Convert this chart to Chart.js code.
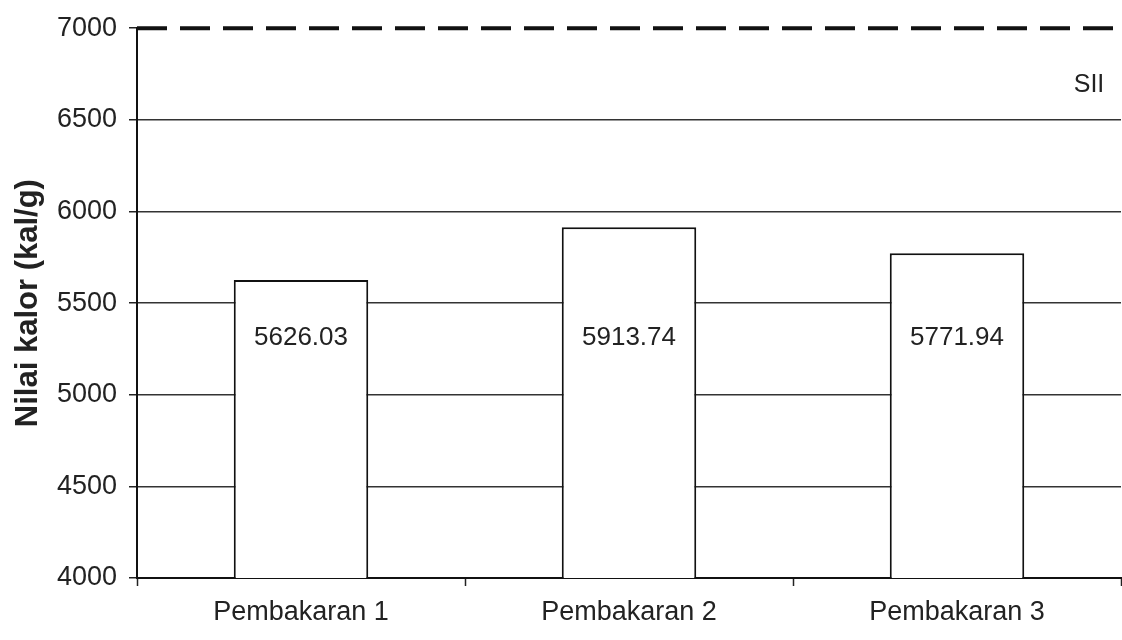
<!DOCTYPE html>
<html>
<head>
<meta charset="utf-8">
<script src="https://cdn.jsdelivr.net/npm/chart.js@4/dist/chart.umd.min.js"></script>
<style>
  html, body { margin: 0; padding: 0; background: #fff; }
  #wrap { width: 1122px; height: 640px; }
</style>
</head>
<body>
<div id="wrap"><canvas id="kalorChart" width="1122" height="640"></canvas></div>
<script>
const categories = ['Pembakaran 1', 'Pembakaran 2', 'Pembakaran 3'];
const nilaiKalor = [5626.03, 5913.74, 5771.94];
const siiValue = 7000;
const siiLabel = 'SII';
const yTicks = [4000, 4500, 5000, 5500, 6000, 6500, 7000];

const sans = '"Liberation Sans", Arial, Helvetica, sans-serif';

// dashed SII line + value labels inside bars
const extras = {
    id: 'extras',
    afterDatasetsDraw(chart) {
        const ctx = chart.ctx;
        const area = chart.chartArea;
        const y = chart.scales.y;
        const ySii = y.getPixelForValue(siiValue);
        ctx.save();
        ctx.strokeStyle = '#111';
        ctx.lineWidth = 4;
        ctx.setLineDash([30, 13]);
        ctx.beginPath();
        ctx.moveTo(area.left, ySii);
        ctx.lineTo(area.right, ySii);
        ctx.stroke();
        ctx.setLineDash([]);
        ctx.fillStyle = '#222';
        ctx.font = '25px ' + sans;
        ctx.textAlign = 'center';
        ctx.textBaseline = 'middle';
        ctx.fillText(siiLabel, 1089, ySii + 57);

        const meta = chart.getDatasetMeta(0);
        ctx.font = '26px ' + sans;
        meta.data.forEach(function (bar, i) {
            const labelY = y.getPixelForValue(5310);
            ctx.fillText(nilaiKalor[i].toFixed(2), bar.x, labelY);
        });
        ctx.restore();
    }
};

const data = {
    labels: categories,
    datasets: [{
        label: 'Nilai kalor',
        data: nilaiKalor,
        backgroundColor: '#ffffff',
        borderColor: '#111',
        borderWidth: 2,
        borderSkipped: false,
        barPercentage: 0.41,
        categoryPercentage: 1
    }]
};

const config = {
    type: 'bar',
    data,
    options: {
        responsive: false,
        animation: false,
        layout: { padding: { top: 22, right: 1, left: 0, bottom: 0 } },
        plugins: {
            legend: { display: false },
            tooltip: { enabled: false }
        },
        scales: {
            x: {
                offset: true,
                afterFit(scale) { scale.height = 62; },
                grid: {
                    offset: true,
                    drawOnChartArea: false,
                    drawTicks: true,
                    tickLength: 8,
                    tickColor: '#222',
                    tickWidth: 1.5
                },
                border: { color: '#111', width: 2 },
                ticks: {
                    color: '#222',
                    padding: 10,
                    font: { family: sans, size: 27 }
                }
            },
            y: {
                min: 4000,
                max: 7000,
                afterFit(scale) { scale.width = 137; },
                afterBuildTicks(scale) { scale.ticks = yTicks.map(v => ({ value: v })); },
                grid: {
                    color: function (c) {
                        return (c.tick && (c.tick.value === 7000 || c.tick.value === 4000)) ? 'rgba(0,0,0,0)' : '#333';
                    },
                    lineWidth: 1.5,
                    tickLength: 8,
                    tickColor: '#222',
                    tickWidth: 1.5
                },
                border: { color: '#111', width: 2 },
                ticks: {
                    color: '#222',
                    padding: 12,
                    callback: v => String(v),
                    font: { family: sans, size: 27 }
                },
                title: {
                    display: true,
                    text: 'Nilai kalor (kal/g)',
                    color: '#222',
                    padding: { top: 10, bottom: 2 },
                    font: { family: sans, size: 31, weight: 'bold' }
                }
            }
        }
    },
    plugins: [extras]
};

const myChart = new Chart(document.getElementById('kalorChart'), config);
</script>
</body>
</html>
